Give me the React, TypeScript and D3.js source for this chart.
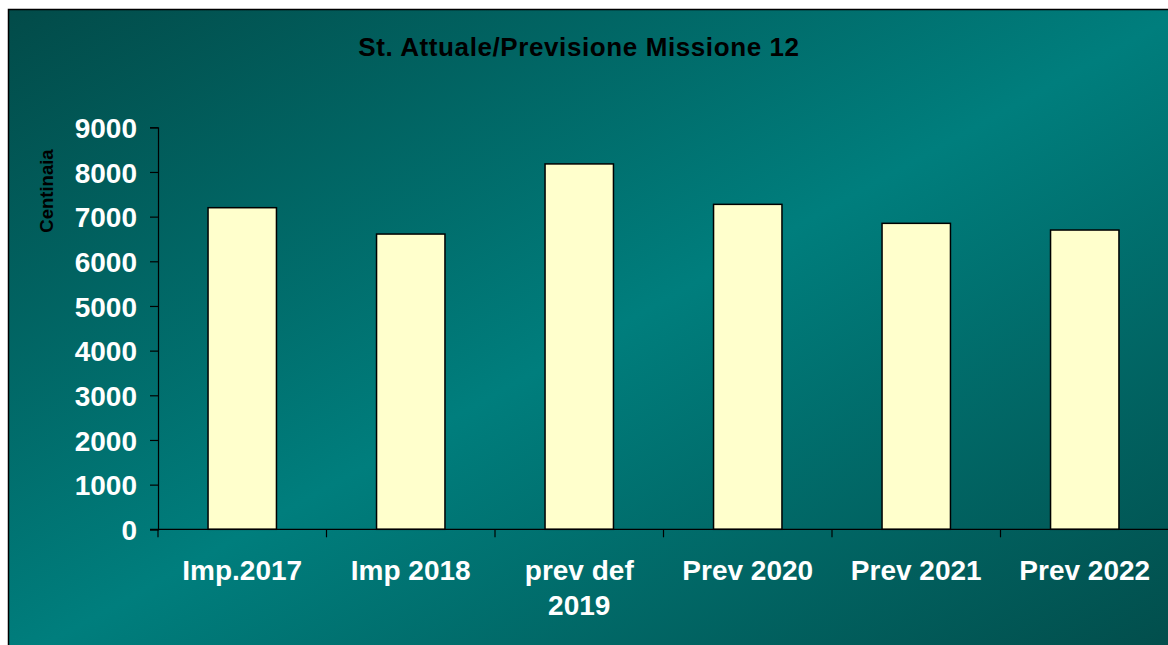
import React, { useRef, useEffect } from "react";
import * as d3 from "d3";

const categories = ["Imp.2017", "Imp 2018", "prev def\n2019", "Prev 2020", "Prev 2021", "Prev 2022"];
const values = [7200, 6610, 8180, 7275, 6850, 6700];
const yTicks = [0, 1000, 2000, 3000, 4000, 5000, 6000, 7000, 8000, 9000];
const title = "St. Attuale/Previsione Missione 12";
const yLabel = "Centinaia";

const App = () => {
  const ref = useRef<SVGSVGElement>(null);

  useEffect(() => {
    const width = 1168;
    const height = 645;
    const marginLeft = 158;
    const plotRight = 1169;
    const yTop = 127.3;
    const yBottom = 529.3;

    const svg = d3.select(ref.current);
    svg.selectAll("*").remove();

    // gradiente di sfondo
    const defs = svg.append("defs");
    const grad = defs
      .append("linearGradient")
      .attr("id", "bg")
      .attr("x1", 0)
      .attr("y1", 0)
      .attr("x2", 1)
      .attr("y2", 1);
    grad.append("stop").attr("offset", "0%").attr("stop-color", "#024b49");
    grad.append("stop").attr("offset", "50%").attr("stop-color", "#007e7d");
    grad.append("stop").attr("offset", "100%").attr("stop-color", "#024c4a");

    svg.append("rect").attr("width", width).attr("height", height).attr("fill", "#ffffff");
    svg
      .append("rect")
      .attr("x", 8.5)
      .attr("y", 9.5)
      .attr("width", width + 10)
      .attr("height", height + 10)
      .attr("fill", "url(#bg)")
      .attr("stroke", "#000")
      .attr("stroke-width", 1.5);

    const x = d3
      .scaleBand()
      .domain(categories)
      .range([marginLeft, plotRight])
      .paddingInner(0.594)
      .paddingOuter(0.297);
    const y = d3.scaleLinear().domain([0, 9000]).range([yBottom, yTop]);

    // titolo
    svg
      .append("text")
      .attr("x", 579)
      .attr("y", 55.5)
      .attr("text-anchor", "middle")
      .attr("font-family", "Liberation Sans, Arial, sans-serif")
      .attr("font-weight", "bold")
      .attr("font-size", 26)
      .attr("letter-spacing", 0.6)
      .attr("fill", "#000")
      .text(title);

    // barre
    svg
      .append("g")
      .selectAll("rect")
      .data(values)
      .join("rect")
      .attr("x", (d, i) => x(categories[i])!)
      .attr("y", (d) => y(d))
      .attr("width", x.bandwidth())
      .attr("height", (d) => y(0) - y(d))
      .attr("fill", "#ffffcc")
      .attr("stroke", "#000")
      .attr("stroke-width", 1.5);

    // asse y
    const yAxis = svg
      .append("g")
      .attr("transform", `translate(${marginLeft},0)`)
      .call(d3.axisLeft(y).tickValues(yTicks).tickSize(8).tickPadding(13).tickFormat(d3.format("d")));
    yAxis.select(".domain").attr("stroke", "#000").attr("stroke-width", 1.2);
    yAxis.selectAll(".tick line").attr("stroke", "#000").attr("stroke-width", 1.2);
    yAxis
      .selectAll(".tick text")
      .attr("fill", "#fff")
      .attr("font-family", "Liberation Sans, Arial, sans-serif")
      .attr("font-weight", "bold")
      .attr("font-size", 28)
      .attr("dy", "0.36em");

    // asse x
    const xAxis = svg.append("g").attr("transform", `translate(0,${yBottom})`);
    xAxis
      .append("line")
      .attr("x1", marginLeft - 8)
      .attr("x2", width)
      .attr("stroke", "#000")
      .attr("stroke-width", 1.2);
    const step = x.step();
    xAxis
      .selectAll("line.tk")
      .data(d3.range(categories.length + 1))
      .join("line")
      .attr("class", "tk")
      .attr("x1", (i) => marginLeft + i * step)
      .attr("x2", (i) => marginLeft + i * step)
      .attr("y1", 0)
      .attr("y2", 8)
      .attr("stroke", "#000")
      .attr("stroke-width", 1.2);

    const labels = svg
      .append("g")
      .selectAll("text")
      .data(categories)
      .join("text")
      .attr("x", (d) => x(d)! + x.bandwidth() / 2)
      .attr("y", 580)
      .attr("text-anchor", "middle")
      .attr("font-family", "Liberation Sans, Arial, sans-serif")
      .attr("font-weight", "bold")
      .attr("font-size", 28)
      .attr("fill", "#fff");
    labels
      .selectAll("tspan")
      .data((d) => d.split("\n").map((t, j) => ({ t, j, d })))
      .join("tspan")
      .attr("x", (o) => x(o.d)! + x.bandwidth() / 2)
      .attr("dy", (o) => (o.j === 0 ? 0 : 35))
      .text((o) => o.t);

    // etichetta asse y
    svg
      .append("text")
      .attr("transform", "translate(53,191) rotate(-90)")
      .attr("text-anchor", "middle")
      .attr("font-family", "Liberation Sans, Arial, sans-serif")
      .attr("font-weight", "bold")
      .attr("font-size", 18.5)
      .attr("fill", "#000")
      .text(yLabel);
  }, []);

  return (
    <svg
      ref={ref}
      width={1168}
      height={645}
      style={{ position: "absolute", left: 0, top: 0, display: "block" }}
    />
  );
};

export default App;
